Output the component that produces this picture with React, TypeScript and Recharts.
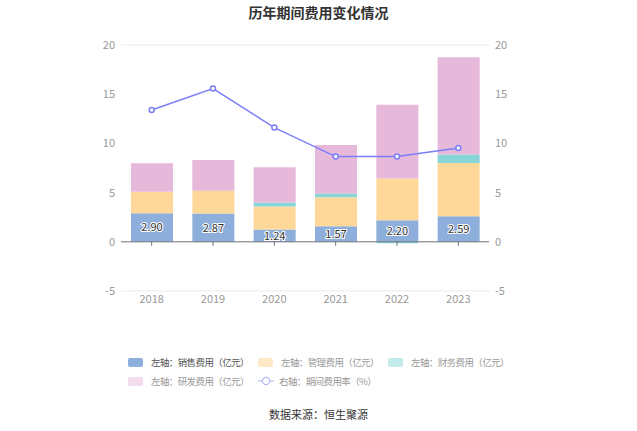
import React from 'react';
import {
  ComposedChart,
  Bar,
  Line,
  Scatter,
  XAxis,
  YAxis,
  CartesianGrid,
  ReferenceLine,
  LabelList,
} from 'recharts';

const YEARS = ['2018', '2019', '2020', '2021', '2022', '2023'];
const SALES = [2.9, 2.87, 1.24, 1.57, 2.2, 2.59];
const ADMIN = [2.18, 2.31, 2.35, 2.96, 4.23, 5.43];
const FINANCE = [0.0, 0.0, 0.4, 0.38, -0.14, 0.85];
const RND = [2.91, 3.14, 3.59, 4.94, 7.51, 9.88];
const RATE = [13.4, 15.57, 11.61, 8.66, 8.66, 9.54];
const Y_TICKS = [-5, 0, 5, 10, 15, 20];

const data = YEARS.map((year, i) => ({
  year,
  sales: SALES[i],
  admin: ADMIN[i],
  finance: FINANCE[i],
  rnd: RND[i],
  rate: RATE[i],
  zero: 0,
}));

const FONT = '"Noto Sans CJK SC", "Noto Sans", sans-serif';

// 图例
const LEGEND = [
  { name: '左轴：销售费用（亿元）', color: '#8eaedc', text: '#555' },
  { name: '左轴：管理费用（亿元）', color: '#fde9c6', text: '#999' },
  { name: '左轴：财务费用（亿元）', color: '#c3ebec', text: '#999' },
  { name: '左轴：研发费用（亿元）', color: '#f3dcee', text: '#999' },
];

const TickMark = (props: any) => {
  const { cx, cy } = props;
  return <line x1={cx} x2={cx} y1={cy} y2={cy + 4} stroke="#6e7079" strokeWidth={1} />;
};

const legendText: React.CSSProperties = { fontSize: 9.5, letterSpacing: -0.6, whiteSpace: 'nowrap' };

const LegendItem = ({ name, color, text }: { name: string; color: string; text: string }) => (
  <div style={{ display: 'flex', alignItems: 'center', width: 130, flexShrink: 0 }}>
    <div style={{ width: 15, height: 9, flexShrink: 0, borderRadius: 2, backgroundColor: color, marginRight: 8 }} />
    <span style={{ ...legendText, color: text }}>{name}</span>
  </div>
);

export default function App() {
  return (
    <div style={{ position: 'absolute', left: 0, top: 0, width: 637, height: 431, background: '#fff', fontFamily: FONT }}>
      <div style={{ position: 'absolute', top: 2, width: 637, textAlign: 'center', fontSize: 14, fontWeight: 'bold', color: '#333' }}>
        历年期间费用变化情况
      </div>
      <ComposedChart
        width={637}
        height={320}
        data={data}
        stackOffset="sign"
        margin={{ top: 45, right: 0, bottom: 0, left: 0 }}
        style={{ position: 'absolute', left: 0, top: 0 }}
      >
        <CartesianGrid vertical={false} stroke="#e9e9f3" />
        <XAxis
          dataKey="year"
          height={29}
          axisLine={false}
          tickLine={false}
          tickSize={0}
          tickMargin={4}
          tick={{ fontSize: 11, fill: '#999', fontFamily: FONT }}
        />
        <YAxis
          yAxisId="left"
          width={121}
          domain={[-5, 20]}
          ticks={Y_TICKS}
          axisLine={false}
          tickLine={false}
          tickSize={0}
          tickMargin={6}
          tick={{ fontSize: 11, fill: '#999', fontFamily: FONT }}
        />
        <YAxis
          yAxisId="right"
          orientation="right"
          width={148}
          domain={[-5, 20]}
          ticks={Y_TICKS}
          axisLine={false}
          tickLine={false}
          tickSize={0}
          tickMargin={6}
          tick={{ fontSize: 11, fill: '#999', fontFamily: FONT }}
        />
        <Bar yAxisId="left" dataKey="sales" stackId="a" fill="#8eaedc" barSize={42} isAnimationActive={false}>
          <LabelList
            dataKey="sales"
            position="center"
            formatter={(v: any) => Number(v).toFixed(2)}
            style={{ fontSize: 11, fill: '#333', stroke: '#fff', strokeWidth: 2, paintOrder: 'stroke', fontFamily: FONT }}
          />
        </Bar>
        <Bar yAxisId="left" dataKey="admin" stackId="a" fill="#fed899" barSize={42} isAnimationActive={false} />
        <Bar yAxisId="left" dataKey="finance" stackId="a" fill="#88d5d8" barSize={42} isAnimationActive={false} />
        <Bar yAxisId="left" dataKey="rnd" stackId="a" fill="#e6b9da" barSize={42} isAnimationActive={false} />
        <ReferenceLine yAxisId="left" y={0} stroke="#6e7079" strokeWidth={1} />
        <Scatter yAxisId="left" dataKey="zero" shape={TickMark} isAnimationActive={false} />
        <Line
          yAxisId="right"
          dataKey="rate"
          stroke="#7b7ff7"
          strokeWidth={1.5}
          dot={{ r: 2.5, fill: '#fff', stroke: '#7b7ff7', strokeWidth: 1.5 }}
          isAnimationActive={false}
        />
      </ComposedChart>
      <div style={{ position: 'absolute', left: 128, top: 355, display: 'flex' }}>
        {LEGEND.slice(0, 3).map((l) => (
          <LegendItem key={l.name} {...l} />
        ))}
      </div>
      <div style={{ position: 'absolute', left: 128, top: 374, display: 'flex' }}>
        <LegendItem {...LEGEND[3]} />
        <div style={{ display: 'flex', alignItems: 'center' }}>
          <svg width={16} height={10} style={{ marginRight: 5, flexShrink: 0 }}>
            <line x1={0} x2={16} y1={5} y2={5} stroke="#b8b9f8" strokeWidth={1.2} />
            <circle cx={8} cy={5} r={3.6} fill="#fff" stroke="#b8b9f8" strokeWidth={1.2} />
          </svg>
          <span style={{ ...legendText, color: '#999' }}>右轴：期间费用率（%）</span>
        </div>
      </div>
      <div style={{ position: 'absolute', top: 406, width: 637, textAlign: 'center', fontSize: 11, color: '#333' }}>
        数据来源：恒生聚源
      </div>
    </div>
  );
}
